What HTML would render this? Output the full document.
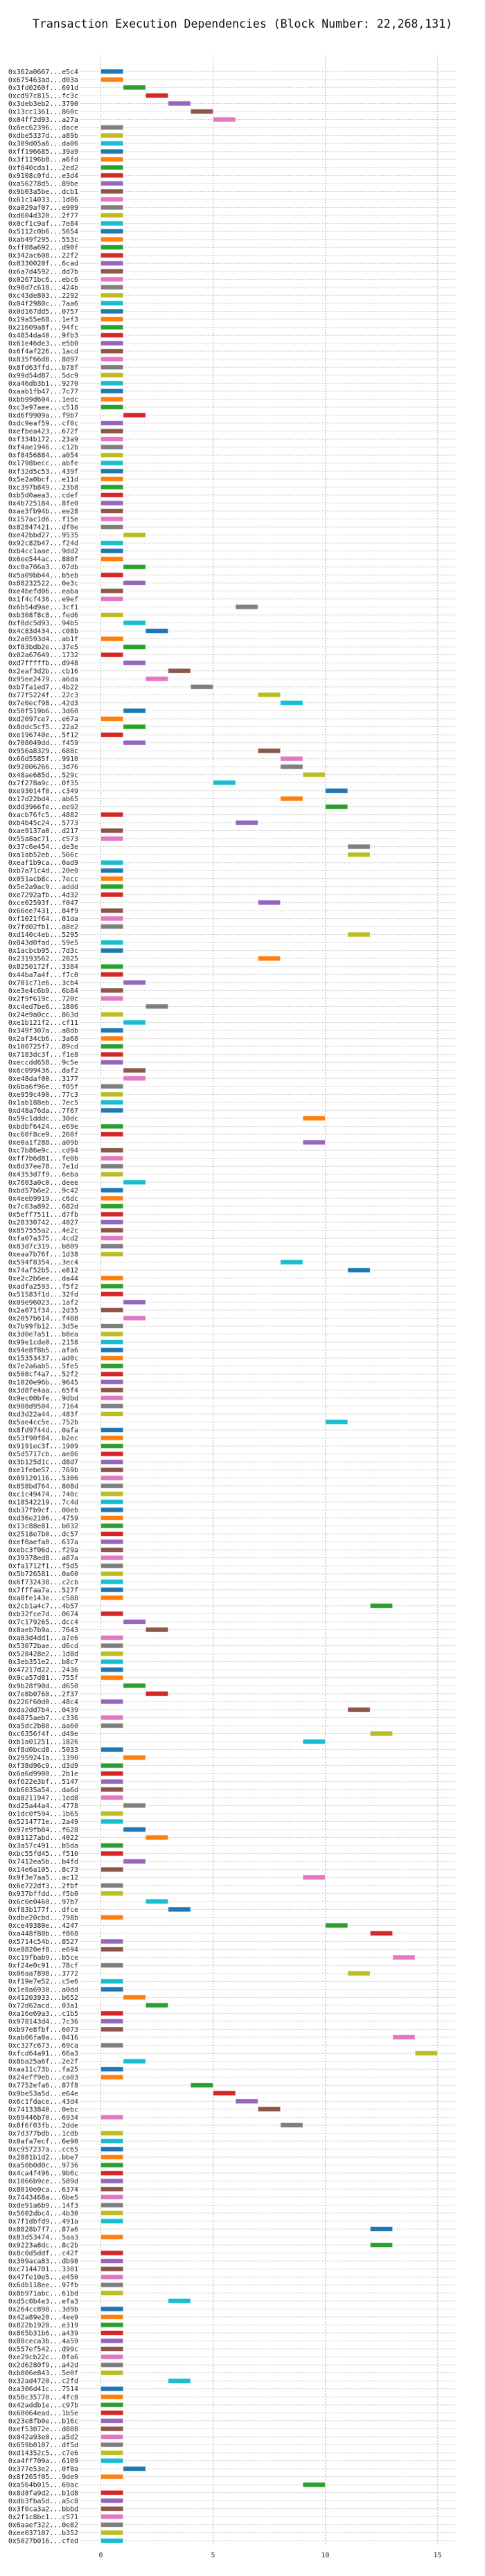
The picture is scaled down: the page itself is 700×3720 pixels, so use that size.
<!DOCTYPE html>
<html><head><meta charset="utf-8">
<style>
html,body{margin:0;padding:0;background:#fff;}
svg{display:block;}
text{font-family:"DejaVu Sans Mono","Liberation Mono",monospace;}
</style></head>
<body>
<svg id="chart" width="700" height="3720" viewBox="0 0 700 3720" xmlns="http://www.w3.org/2000/svg">
<text x="350" y="40" text-anchor="middle" font-size="16.5" fill="#111">Transaction Execution Dependencies (Block Number: 22,268,131)</text>
<g id="grid"></g>
<g id="bars"></g>
<g id="ylabels"></g>
<g id="xticks"></g>
</svg>
<script>
const txLabels = ["0x362a0667...e5c4","0x675463ad...d03a","0x3fd0260f...691d","0xcd97c815...fc3c","0x3deb3eb2...3790","0x13cc1361...860c","0x04ff2d93...a27a","0x6ec62396...dace","0xdbe5337d...a89b","0x309d05a6...da06",
"0xff196685...39a9","0x3f1196b8...a6fd","0xf840cda1...2ed2","0x9108c0fd...e3d4","0xa56278d5...89be","0x9b03a5be...dcb1","0x61c14033...1d06","0xa029af07...e909","0xd604d320...2f77","0x0cf1c9af...7e84",
"0x5112c0b6...5654","0xab49f295...553c","0xff08a692...d90f","0x342ac608...22f2","0x0330020f...6cad","0x6a7d4592...dd7b","0x02671bc6...ebc6","0x98d7c618...424b","0xc43de803...2292","0x04f2980c...7aa6",
"0x0d167dd5...0757","0x19a55e68...1ef3","0x21609a8f...94fc","0x4854da40...9fb3","0x61e46de3...e5b0","0x6f4af226...1acd","0x835f66d8...8d97","0x8fd63ffd...b78f","0x99d54d87...5dc9","0xa46db3b1...9270",
"0xaab1fb47...7c77","0xbb99d604...1edc","0xc3e97aee...c518","0xd6f9909a...f9b7","0xdc9eaf59...cf0c","0xefbea423...672f","0xf334b172...23a9","0xf4ae1946...c12b","0xf8456884...a054","0x1798becc...abfe",
"0xf32d5c53...439f","0x5e2a0bcf...e11d","0xc397b849...23b8","0xb5d0aea3...cdef","0x4b725184...8fe0","0xae3fb94b...ee28","0x157ac1d6...f15e","0x82847421...df0e","0xe42bbd27...9535","0x92c82b47...f24d",
"0xb4cc1aae...9dd2","0x6ee544ac...880f","0xc0a706a3...07db","0x5a09bb44...b5eb","0x88232522...0e3c","0xe4befd06...eaba","0x1f4cf436...e9ef","0x6b54d9ae...3cf1","0xb308f8c8...fed6","0xf0dc5d93...94b5",
"0x4c83d434...c08b","0x2a0593d4...ab1f","0xf83bdb2e...37e5","0x02a67649...1732","0xd7fffffb...d948","0x2eaf3d2b...cb16","0x95ee2479...a6da","0xb7fa1ed7...4b22","0x77f5224f...22c3","0x7e0ecf98...42d3",
"0x50f519b6...3d60","0xd2097ce7...e67a","0x8ddc5cf5...22a2","0xe196740e...5f12","0x708049dd...f459","0x956a8329...688c","0x66d5585f...9910","0x92806266...3d76","0x48ae685d...529c","0x7f278a9c...0f35",
"0xe93014f0...c349","0x17d22bd4...ab65","0xdd3966fe...ee92","0xacb76fc5...4882","0xb4b45c24...5773","0xae9137a0...d217","0x55a8ac71...c573","0x37c6e454...de3e","0xa1ab52eb...566c","0xeaf1b9ca...0ad9",
"0xb7a71c4d...20e0","0x051acb8c...7ecc","0x5e2a9ac9...addd","0xe7292afb...4d32","0xce02593f...f047","0x66ee7431...84f9","0xf1021f64...01da","0x7fd02fb1...a8e2","0xd140c4eb...5295","0x843d0fad...59e5",
"0x1acbcb95...7d3c","0x23193562...2825","0x8250172f...3384","0x44ba7a4f...f7c0","0x701c71e6...3cb4","0xe3e4c6b9...6b84","0x2f9f619c...720c","0xc4ed7be6...1806","0x24e9a0cc...863d","0xe1b121f2...cf11",
"0x349f307a...a8db","0x2af34cb6...3a68","0x100725f7...89cd","0x7183dc3f...f1e8","0xeccdd658...9c5e","0x6c099436...daf2","0xe48daf00...3177","0x6ba6f96e...f05f","0xe959c490...77c3","0x1ab188eb...7ec5",
"0xd48a76da...7f67","0x59c1dddc...30dc","0xbdbf6424...e69e","0xc60f8ce9...260f","0xe0a1f288...a09b","0xc7b86e9c...cd94","0xff7b6d81...fe0b","0x8d37ee78...7e1d","0x4353d7f9...6eba","0x7603a0c0...deee",
"0xbd57b6e2...9c42","0x4eeb9919...c6dc","0x7c63a892...682d","0x5eff7511...d7fb","0x28330742...4027","0x857555a2...4e2c","0xfa07a375...4cd2","0x83d7c319...b809","0xeaa7b76f...1d38","0x594f8354...3ec4",
"0x74af52b5...e812","0xe2c2b6ee...da44","0xadfa2593...f5f2","0x51583f1d...32fd","0x09e96023...1af2","0x2a071f34...2d35","0x2057b614...f488","0x7b99fb12...3d5e","0x3d0e7a51...b8ea","0x99e1cde0...2158",
"0x94e8f8b5...afa6","0x15353437...ad0c","0x7e2a6ab5...5fe5","0x508cf4a7...52f2","0x1020e96b...9645","0x3d8fe4aa...65f4","0x9ec00bfe...9dbd","0x908d9504...7164","0xd3d22a44...483f","0x5ae4cc5e...752b",
"0x8fd9744d...0afa","0x53f90f84...b2ec","0x9191ec3f...1909","0x5d5717cb...ae86","0x3b125d1c...d8d7","0xe1febe57...769b","0x69120116...5306","0x858bd764...808d","0xc1c49474...740c","0x18542219...7c4d",
"0xb37fb9cf...00eb","0xd36e2106...4759","0x13c88e81...b032","0x2518e7b0...dc57","0xef0aefa0...637a","0xebc3f06d...f29a","0x39378ed8...a87a","0xfa1712f1...f5d5","0x5b726581...0a60","0x6f732438...c2cb",
"0x7fffaa7a...527f","0xa8fe143e...c588","0x2cb1a4c7...4b57","0xb32fce7d...0674","0x7c179265...dcc4","0x0aeb7b9a...7643","0xa83d4dd1...a7e6","0x53072bae...d6cd","0x528428e2...1d8d","0x3eb351e2...b8c7",
"0x47217d22...2436","0x9ca57d81...755f","0x9b28f90d...d650","0x7e8b0760...2f37","0x226f60d0...48c4","0xda2dd7b4...0439","0x4875aeb7...c336","0xa5dc2b88...aa60","0xc6356f4f...d49e","0xb1a01251...1826",
"0xf8d0bcd8...5033","0x2959241a...1390","0xf38d96c9...d3d9","0x6a6d9900...2b1e","0xf622e3bf...5147","0xb6035a54...da6d","0xa8211947...1ed8","0xd25a44a4...4778","0x1dc0f594...1b65","0x5214771e...2a49",
"0x97e9fb84...f628","0x01127abd...4022","0x3a57c491...b5da","0xbc55fd45...f510","0x7412ea5b...b4fd","0x14e6a105...8c73","0x9f3e7aa5...ac12","0x6e722df3...2fbf","0x937bffdd...f5b0","0x6c0e0460...97b7",
"0xf83b177f...dfce","0xdbe20cbd...798b","0xce49380e...4247","0xa448f80b...f868","0x5714c54b...8527","0xe8820ef8...e694","0xc19fbab9...b5ce","0xf24e0c91...78cf","0x06aa7898...3772","0xf19e7e52...c5e6",
"0x1e8a6930...a0dd","0x41203933...b652","0x72d62acd...03a1","0xa16e69a3...c1b5","0x978143d4...7c36","0xb97e8fbf...6073","0xab06fa0a...0416","0xc327c673...69ca","0xfcd64a91...66a3","0x8ba25a6f...2e2f",
"0xaa11c73b...fa25","0x24eff9eb...ca03","0x7752efa6...87f8","0x9be53a5d...e64e","0x6c1fdace...43d4","0x74133840...0ebc","0x69446b70...6934","0x8f6f03fb...2dde","0x7d377bdb...1cdb","0x0afa7ecf...6e90",
"0xc957237a...cc65","0x2881b1d2...bbe7","0xa50b0d0c...9736","0x4ca4f496...9b6c","0x1066b9ce...589d","0x8010e0ca...6374","0x7443468a...6be5","0xde91a6b9...14f3","0x5602dbc4...4b30","0x7f1dbfd9...491a",
"0x8828b7f7...87a6","0x83d53474...5aa3","0x9223a8dc...8c2b","0x8c0d5ddf...c42f","0x309aca83...db98","0xc7144701...3301","0x47fe10e5...e450","0x6db118ee...97fb","0x8b971abc...61bd","0xd5c0b4e3...efa3",
"0x264cc898...3d9b","0x42a89e20...4ee9","0x822b1928...e319","0x865b31b6...a439","0x88ceca3b...4a59","0x557ef542...d99c","0xe29cb22c...0fa6","0x2d6280f9...a42d","0xb006e843...5e0f","0x32ad4720...c2fd",
"0xa306d41c...7514","0x50c35770...4fc8","0x42addb1e...c97b","0x60064ead...1b5e","0x23e8fb0e...b16c","0xef53072e...d808","0x042a93e0...a5d2","0x659b0107...df5d","0xd14352c5...c7e6","0xa4ff709a...6109",
"0x377e53e2...0f8a","0x8f265f05...9de9","0xa564b015...69ac","0x8d8fa9d2...b1d8","0xdb3fba5d...a5c8","0x3f0ca3a2...bbbd","0x2f1c8bc1...c571","0x6aaef322...0e82","0xee037107...b352","0x5027b016...cfed"];
const startTimes = [0,0,1,2,3,4,5,0,0,0, 0,0,0,0,0,0,0,0,0,0, 0,0,0,0,0,0,0,0,0,0,
0,0,0,0,0,0,0,0,0,0, 0,0,0,1,0,0,0,0,0,0, 0,0,0,0,0,0,0,0,1,0,
0,0,1,0,1,0,0,6,0,1, 2,0,1,0,1,3,2,4,7,8, 1,0,1,0,1,7,8,8,9,5,
10,8,10,0,6,0,0,11,11,0, 0,0,0,0,7,0,0,0,11,0, 0,7,0,0,1,0,0,2,0,1,
0,0,0,0,0,1,1,0,0,0, 0,9,0,0,9,0,0,0,0,1, 0,0,0,0,0,0,0,0,0,8,
11,0,0,0,1,0,1,0,0,0, 0,0,0,0,0,0,0,0,0,10, 0,0,0,0,0,0,0,0,0,0,
0,0,0,0,0,0,0,0,0,0, 0,0,12,0,1,2,0,0,0,0, 0,0,1,2,0,11,0,0,12,9,
0,1,0,0,0,0,0,1,0,0, 1,2,0,0,1,0,9,0,0,2, 3,0,10,12,0,0,13,0,11,0,
0,1,2,0,0,0,13,0,14,1, 0,0,4,5,6,7,0,8,0,0, 0,0,0,0,0,0,0,0,0,0,
12,0,12,0,0,0,0,0,0,3, 0,0,0,0,0,0,0,0,0,3, 0,0,0,0,0,0,0,0,0,0,
1,0,9,0,0,0,0,0,0,0];
const durations = new Array(txLabels.length).fill(1);
const xTicks = [0,5,10,15];
const palette = ["#1f77b4","#ff7f0e","#2ca02c","#d62728","#9467bd","#8c564b","#e377c2","#7f7f7f","#bcbd22","#17becf"];

const NS = "http://www.w3.org/2000/svg";
const X0 = 145.5, XU = 32.4, AX_L = 116, AX_R = 660, AX_T = 80, AX_B = 3677;
const Y0 = 103.3, YU = (3669 - 103.3) / (txLabels.length - 1);
const xScale = v => X0 + v * XU;
const yScale = i => Y0 + i * YU;
function mk(tag, attrs, parent){ const e = document.createElementNS(NS, tag); for (const k in attrs) e.setAttribute(k, attrs[k]); parent.appendChild(e); return e; }
const grid = document.getElementById('grid'), bars = document.getElementById('bars'),
      yl = document.getElementById('ylabels'), xt = document.getElementById('xticks');

txLabels.forEach((lab, i) => {
  const y = yScale(i);
  const gl = mk('line', {x1: AX_L, x2: AX_R, y1: y, y2: y, stroke: '#c4c4c4', 'stroke-width': 1, 'stroke-dasharray': '2,2'}, grid);
  
  
  const t = mk('text', {x: 113, y: y + 3.5, 'text-anchor': 'end', 'font-size': 9.9, fill: '#222'}, yl);
  t.textContent = lab;
  
  
  const r = mk('rect', {x: xScale(startTimes[i]), y: y - 3.5, width: durations[i] * XU, height: 7, fill: palette[i % 10], stroke: 'rgba(255,255,255,0.6)', 'stroke-width': 1}, bars);
  
  
});
xTicks.forEach(v => {
  const x = xScale(v);
  const vl = mk('line', {x1: x, x2: x, y1: AX_T, y2: AX_B, stroke: '#c4c4c4', 'stroke-width': 1.2, 'stroke-dasharray': '2,2'}, grid);
  
  
  const t = mk('text', {x: x, y: 3693, 'text-anchor': 'middle', 'font-size': 9.9, fill: '#222'}, xt);
  t.textContent = String(v);
  
  
});
</script>
</body></html>
